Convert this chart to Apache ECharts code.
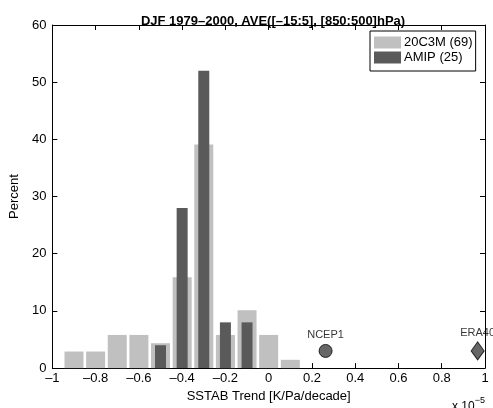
<!DOCTYPE html>
<html>
<head>
<meta charset="utf-8">
<script src="https://cdn.jsdelivr.net/npm/echarts@6/dist/echarts.min.js"></script>
<style>html,body{margin:0;padding:0;background:#fff}#c{width:493px;height:408px}</style>
</head>
<body>
<div id="c"></div>
<script>
// Data
const binCenters = [-0.9, -0.8, -0.7, -0.6, -0.5, -0.4, -0.3, -0.2, -0.1, 0.0, 0.1];
const c20c3m = [2.9, 2.9, 5.8, 5.8, 4.35, 15.9, 39.1, 5.8, 10.1, 5.8, 1.45];
const amipCenters = [-0.5, -0.4, -0.3, -0.2, -0.1];
const amip = [4, 28, 52, 8, 8];
const obsNames = ['NCEP1', 'ERA40'];
const obsX = [0.263, 0.966];
const obsY = [3.0, 3.0];
const seriesNames = ['20C3M (69)', 'AMIP (25)'];

const font = 'Liberation Sans, Helvetica, Arial, sans-serif';
const fmt = v => String(Math.round(v * 10) / 10).replace('-', '\u2013');

const chart = echarts.init(document.getElementById('c'), null, {renderer: 'canvas'});
const xCommon = {
  type: 'value', min: -1, max: 1, interval: 0.2,
  axisLine: {show: true, onZero: false, lineStyle: {color: '#000', width: 1}},
  axisTick: {show: true, inside: true, length: 5, lineStyle: {color: '#000'}},
  splitLine: {show: false}
};
const yCommon = {
  type: 'value', min: 0, max: 60, interval: 10,
  axisLine: {show: true, onZero: false, lineStyle: {color: '#000', width: 1}},
  axisTick: {show: true, inside: true, length: 5, lineStyle: {color: '#000'}},
  splitLine: {show: false}
};
chart.setOption({
  animation: false,
  backgroundColor: '#fff',
  title: {
    text: 'DJF 1979\u20132000, AVE([\u201315:5], [850:500]hPa)',
    left: 268, textAlign: 'center', top: 10,
    textStyle: {fontFamily: font, fontSize: 13, fontWeight: 'bold', color: '#000'}
  },
  grid: {left: 48, right: 8, top: 25, bottom: 34, containLabel: false},
  legend: {
    data: seriesNames,
    orient: 'vertical',
    left: 370, top: 31,
    padding: [5, 3, 7, 4],
    itemGap: 2,
    itemWidth: 27, itemHeight: 12,
    icon: 'rect',
    backgroundColor: '#fff',
    borderColor: '#000', borderWidth: 1, borderRadius: 0,
    textStyle: {fontFamily: font, fontSize: 13, lineHeight: 13, color: '#000', padding: [0, 0, 0, -2]}
  },
  xAxis: [
    Object.assign({}, xCommon, {
      position: 'bottom',
      name: 'SSTAB Trend [K/Pa/decade]', nameLocation: 'middle', nameGap: 19,
      nameTextStyle: {fontFamily: font, fontSize: 13, color: '#000'},
      axisLabel: {fontFamily: font, fontSize: 13, color: '#000', margin: 4, formatter: fmt}
    }),
    Object.assign({}, xCommon, {position: 'top', axisLabel: {show: false}})
  ],
  yAxis: [
    Object.assign({}, yCommon, {
      position: 'left',
      name: 'Percent', nameLocation: 'middle', nameGap: 19,
      nameTextStyle: {fontFamily: font, fontSize: 13, color: '#000'},
      axisLabel: {fontFamily: font, fontSize: 13, color: '#000', margin: 6}
    }),
    Object.assign({}, yCommon, {position: 'right', axisLabel: {show: false}})
  ],
  series: [
    {
      name: seriesNames[0], type: 'bar', xAxisIndex: 0, yAxisIndex: 0,
      barWidth: 19,
      itemStyle: {color: '#c0c0c0'},
      data: binCenters.map((x, i) => [x, c20c3m[i]])
    },
    {
      name: seriesNames[1], type: 'bar', xAxisIndex: 1, yAxisIndex: 0,
      barWidth: 11,
      itemStyle: {color: '#5a5a5a'},
      data: amipCenters.map((x, i) => [x, amip[i]])
    },
    {
      type: 'scatter', xAxisIndex: 0, yAxisIndex: 0, clip: false,
      data: [{
        value: [obsX[0], obsY[0]], name: obsNames[0], symbol: 'circle', symbolSize: 13
      }, {
        value: [obsX[1], obsY[1]], name: obsNames[1], symbol: 'diamond', symbolSize: [13, 18]
      }],
      itemStyle: {color: '#404040', borderColor: '#000', borderWidth: 1},
      label: {
        show: true, position: 'top', distance: 3,
        formatter: p => p.name,
        fontFamily: font, fontSize: 11, color: '#000'
      },
      z: 5
    }
  ],
  graphic: [{
    type: 'text', left: 452, top: 396,
    style: {
      text: '{a|x 10}{b|\u22125}',
      rich: {
        a: {fontFamily: font, fontSize: 12, fill: '#000', verticalAlign: 'bottom'},
        b: {fontFamily: font, fontSize: 9, fill: '#000', verticalAlign: 'top', padding: [0, 0, 8, 0]}
      }
    }
  }]
});
</script>
</body>
</html>
